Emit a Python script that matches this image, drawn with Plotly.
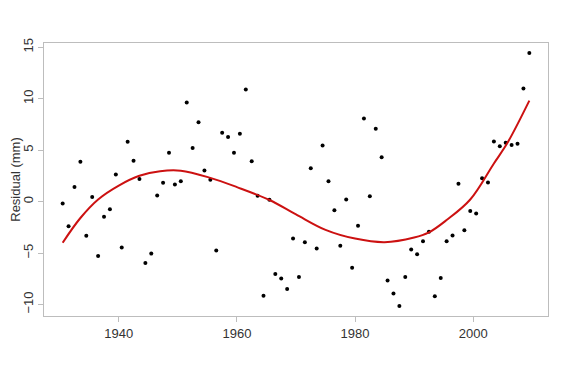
import plotly.graph_objects as go

years = [y + 0.5 for y in range(1930, 2010)]
residuals = [
    -0.19, -2.4, 1.4, 3.86, -3.33, 0.43, -5.28, -1.49, -0.74, 2.62,
    -4.47, 5.8, 3.96, 2.2, -5.96, -5.05, 0.58, 1.82, 4.73, 1.65,
    1.98, 9.62, 5.19, 7.71, 3.01, 2.11, -4.76, 6.68, 6.26, 4.73,
    6.58, 10.88, 3.92, 0.55, -9.16, 0.17, -7.03, -7.48, -8.49, -3.59,
    -7.32, -3.95, 3.24, -4.57, 5.44, 1.98, -0.84, -4.3, 0.2, -6.44,
    -2.36, 8.07, 0.52, 7.07, 4.31, -7.68, -8.94, -10.14, -7.32, -4.66,
    -5.11, -3.85, -2.94, -9.2, -7.42, -3.85, -3.3, 1.72, -2.78, -0.93,
    -1.17, 2.27, 1.85, 5.83, 5.38, 5.7, 5.48, 5.61, 10.98, 14.42,
]

fit_years = [1930.5, 1933.5, 1936.5, 1940.0, 1943.5, 1947.0, 1950.5, 1955.5,
             1960.0, 1965.5, 1970.0, 1975.0, 1980.0, 1985.0, 1990.0, 1992.5,
             1995.5, 1999.5, 2003.5, 2005.8, 2009.5]
fit_values = [-4.0, -1.6, 0.2, 1.55, 2.5, 2.95, 3.0, 2.3,
              1.4, 0.15, -1.25, -2.75, -3.6, -3.95, -3.5, -3.0,
              -1.8, 0.2, 3.7, 5.7, 9.8]

x_ticks = [1940, 1960, 1980, 2000]
y_ticks = [-10, -5, 0, 5, 10, 15]

fig = go.Figure()
fig.add_trace(go.Scatter(
    x=years, y=residuals, mode="markers",
    marker=dict(color="black", size=4),
    showlegend=False, hoverinfo="x+y",
))
fig.add_trace(go.Scatter(
    x=fit_years, y=fit_values, mode="lines",
    line=dict(color="#cc1111", width=2, shape="spline", smoothing=1.0),
    showlegend=False,
))

axis_common = dict(
    showline=True, mirror=True, linecolor="#bdbdbd", linewidth=1,
    ticks="outside", ticklen=5, tickcolor="#bdbdbd",
    showgrid=False, zeroline=False, automargin=False,
    tickfont=dict(family="Liberation Sans, Arial, sans-serif", size=13, color="#333333"),
)

fig.update_layout(
    width=554, height=355,
    margin=dict(l=36, r=14, t=35, b=47),
    paper_bgcolor="white", plot_bgcolor="white",
    xaxis=dict(range=[1927.34, 2012.66], tickvals=x_ticks, **axis_common),
    yaxis=dict(range=[-11.12, 15.4], tickvals=y_ticks, tickangle=-90,
               title=dict(text="Residual (mm)", standoff=1,
                          font=dict(family="Liberation Sans, Arial, sans-serif", size=13, color="#333333")),
               **axis_common),
)

fig.write_html("out.html")
